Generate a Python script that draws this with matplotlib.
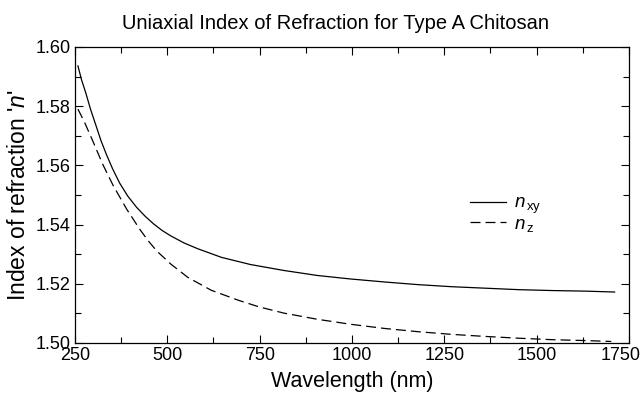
import matplotlib
matplotlib.use("Agg")
import matplotlib.pyplot as plt
from matplotlib.ticker import MultipleLocator, FormatStrFormatter, FuncFormatter

plt.rcParams['font.family'] = ['Liberation Sans', 'DejaVu Sans']
plt.rcParams['mathtext.fontset'] = 'custom'
plt.rcParams['mathtext.rm'] = 'Liberation Sans'
plt.rcParams['mathtext.it'] = 'Liberation Sans:italic'

# values
wl_xy = [258, 268, 279, 292, 307, 320, 335, 352, 371, 393, 417, 440, 463, 486,
         509, 545, 583, 647, 725, 815, 906, 997, 1088, 1179, 1270, 1361, 1452,
         1543, 1634, 1711]
n_xy = [1.5936, 1.5888, 1.5846, 1.5790, 1.5734, 1.5685, 1.5637, 1.5588, 1.5540,
        1.5496, 1.5458, 1.5428, 1.5402, 1.5380, 1.5362, 1.5338, 1.5318, 1.5289,
        1.5265, 1.5245, 1.5228, 1.5216, 1.5206, 1.5197, 1.5190, 1.5185, 1.5180,
        1.5177, 1.5175, 1.5172]
wl_z = [258, 275, 298, 325, 353, 390, 426, 449, 472, 509, 555, 619, 693, 748,
        815, 906, 997, 1088, 1179, 1270, 1361, 1452, 1543, 1634, 1702]
n_z = [1.5790, 1.5748, 1.5683, 1.5604, 1.5533, 1.5452, 1.5383, 1.5344, 1.5310,
       1.5267, 1.5222, 1.5178, 1.5144, 1.5122, 1.5101, 1.5080, 1.5063, 1.5049,
       1.5038, 1.5029, 1.5022, 1.5016, 1.5011, 1.5008, 1.5005]

fig = plt.figure(figsize=(6.43, 4.03), dpi=100)
ax = fig.add_axes([0.1166, 0.149, 0.8616, 0.7345])

ax.plot(wl_xy, n_xy, color='black', lw=0.9, label=r'$n_{\,\mathrm{xy}}$')
ax.plot(wl_z, n_z, color='black', lw=0.9, ls=(0, (8, 4)),
        label=r'$n_{\,\mathrm{z}}$')

ax.set_xlim(250, 1750)
ax.set_ylim(1.50, 1.60)
ax.xaxis.set_major_locator(MultipleLocator(250))
ax.xaxis.set_minor_locator(MultipleLocator(125))
ax.yaxis.set_major_locator(MultipleLocator(0.02))
ax.yaxis.set_minor_locator(MultipleLocator(0.01))
ax.yaxis.set_major_formatter(FormatStrFormatter('%.2f'))
# the 1750 label is drawn separately, pulled in so it stays inside the figure
ax.xaxis.set_major_formatter(FuncFormatter(lambda v, p: '' if v >= 1750 else '%d' % v))

ax.tick_params(which='both', direction='in', top=True, right=True,
               labelsize=13, width=0.8)
ax.tick_params(which='major', length=6, pad=3)
ax.tick_params(which='minor', length=4)
for s in ax.spines.values():
    s.set_linewidth(0.9)

ax.annotate('1750', xy=(1, 0), xycoords='axes fraction', xytext=(-6, -3),
            textcoords='offset points', ha='center', va='top', fontsize=13)

ax.set_title('Uniaxial Index of Refraction for Type A Chitosan', fontsize=14.5,
             pad=13, x=0.47)
ax.set_xlabel('Wavelength (nm)', fontsize=15.5, labelpad=5)
ax.set_ylabel(r"Index of refraction '$n$'", fontsize=16.5, labelpad=4)

ax.legend(loc='center left', bbox_to_anchor=(0.683, 0.434), frameon=False,
          fontsize=13.5, handlelength=1.9, handletextpad=0.45, labelspacing=-0.05)

fig.savefig('out.png', dpi=100)
